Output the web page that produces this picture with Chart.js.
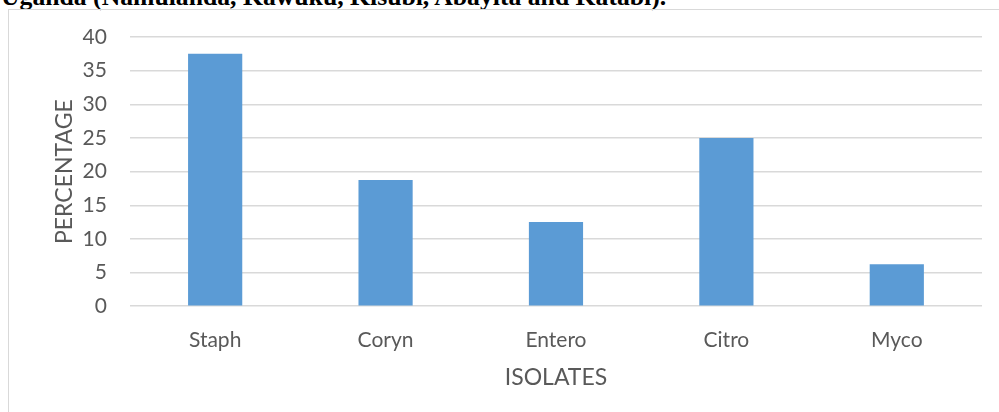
<!DOCTYPE html>
<html>
<head>
<meta charset="utf-8">
<title>Isolates</title>
<script src="https://cdn.jsdelivr.net/npm/chart.js@4"></script>
<style>
  html, body { margin: 0; padding: 0; background: #fff; overflow: hidden; }
  body { width: 999px; height: 412px; position: relative; }
  #caption {
    position: absolute; left: 1px; top: -16px;
    font: bold 25.7px/26px "Liberation Serif", "Times New Roman", serif;
    color: #000; white-space: nowrap;
  }
  #frame {
    position: absolute; left: 8px; top: 9px; width: 1200px; height: 600px;
    border: 1px solid #d9d9d9;
  }
  #wrap { position: absolute; left: 0; top: 0; width: 999px; height: 412px; }
</style>
</head>
<body>
<div id="caption">Uganda (Namulanda, Kawuku, Kisubi, Abayita and Katabi).</div>
<div id="frame"></div>
<div id="wrap"><canvas id="chartIsolates"></canvas></div>
<script>
// isolates found and their share of the total (%)
var isolates = ["Staph", "Coryn", "Entero", "Citro", "Myco"];
var percentages = [37.5, 18.75, 12.5, 25, 6.25];
var yTicks = [0, 5, 10, 15, 20, 25, 30, 35, 40];

var textGrey = "#595959";
var labelFont = { family: "Lato", size: 21 };
var titleFont = { family: "Lato", size: 23 };

var ctx = document.getElementById("chartIsolates").getContext("2d");
var chart = new Chart(ctx, {
  type: "bar",
  data: {
    labels: isolates,
    datasets: [{
      data: percentages,
      backgroundColor: "#5b9bd5",
      barPercentage: 0.318,
      categoryPercentage: 1
    }]
  },
  options: {
    responsive: true,
    maintainAspectRatio: false,
    animation: false,
    layout: { padding: { left: 51, right: 17, top: 37, bottom: 21 } },
    plugins: {
      legend: { display: false },
      tooltip: { enabled: false }
    },
    scales: {
      x: {
        grid: { display: false, drawTicks: false },
        border: { display: false },
        ticks: { color: textGrey, font: labelFont, padding: 21 },
        // the tick padding ends up counted twice, so pull the title back up
        title: {
          display: true, text: "ISOLATES", color: textGrey, font: titleFont,
          padding: { top: -10, bottom: 0 }
        }
      },
      y: {
        min: 0,
        max: 40,
        afterBuildTicks: function (scale) {
          scale.ticks = yTicks.map(function (v) { return { value: v }; });
        },
        grid: { color: "#d9d9d9", lineWidth: 1.5, drawTicks: false },
        border: { display: false },
        ticks: { color: textGrey, font: labelFont, padding: 23 },
        title: {
          display: true, text: "PERCENTAGE", color: textGrey, font: titleFont,
          padding: { top: 0, bottom: -19 }
        }
      }
    }
  }
});
</script>
</body>
</html>
